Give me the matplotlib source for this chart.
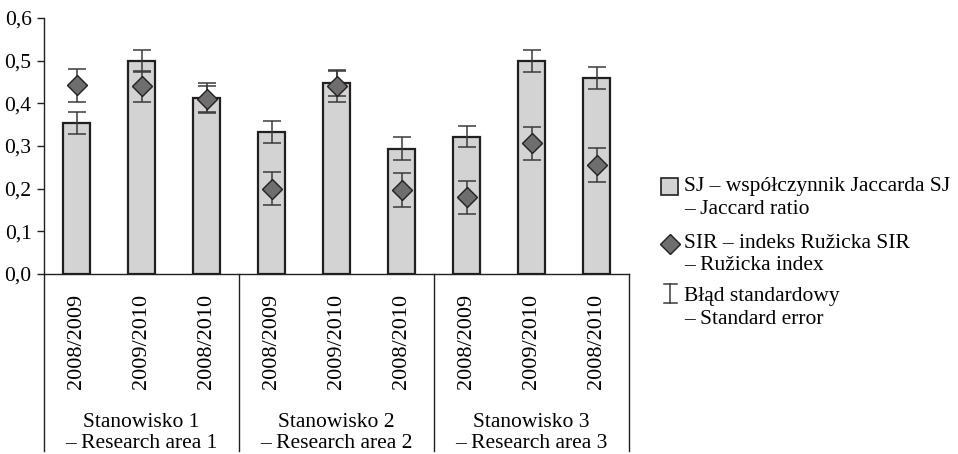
import matplotlib
matplotlib.use("Agg")
import matplotlib.pyplot as plt
from matplotlib.patches import Rectangle
from matplotlib.lines import Line2D
import numpy as np

# ---- data ----
years = ["2008/2009", "2009/2010", "2008/2010",
         "2008/2009", "2009/2010", "2008/2010",
         "2008/2009", "2009/2010", "2008/2010"]
groups = ["Stanowisko 1\n– Research area 1",
          "Stanowisko 2\n– Research area 2",
          "Stanowisko 3\n– Research area 3"]
sj = [0.354, 0.500, 0.413, 0.333, 0.448, 0.294, 0.322, 0.500, 0.459]
sj_se = [0.025, 0.026, 0.035, 0.026, 0.030, 0.026, 0.025, 0.026, 0.025]
sir = [0.442, 0.440, 0.410, 0.200, 0.440, 0.197, 0.180, 0.306, 0.256]
sir_se = [0.039, 0.036, 0.030, 0.039, 0.036, 0.039, 0.039, 0.038, 0.040]
yticks = [0.0, 0.1, 0.2, 0.3, 0.4, 0.5, 0.6]
ytick_labels = ["0,0", "0,1", "0,2", "0,3", "0,4", "0,5", "0,6"]
legend_lines = ["SJ – współczynnik Jaccarda SJ", "– Jaccard ratio",
                "SIR – indeks Ružicka SIR", "– Ružicka index",
                "Błąd standardowy", "– Standard error"]

plt.rcParams['font.family'] = ['Liberation Serif', 'DejaVu Serif']
FS = 15.5
DARK = '#231f20'
BARC = '#d3d3d3'
DIAC = '#6e6e6e'
ERRC = '#3a3a3a'

W, H = 958, 454
fig = plt.figure(figsize=(W / 100, H / 100), dpi=100)
ax = fig.add_axes([44 / W, (H - 274) / H, (629 - 44) / W, (274 - 18) / H])

x = np.arange(len(sj))
ax.bar(x, sj, width=0.42, color=BARC, edgecolor=DARK, linewidth=1.6, zorder=2)
ax.errorbar(x, sj, yerr=sj_se, fmt='none', ecolor=ERRC, elinewidth=1.1,
            capsize=6.5, capthick=1.1, zorder=3)
ax.errorbar(x, sir, yerr=sir_se, fmt='none', ecolor=ERRC, elinewidth=1.1,
            capsize=6.5, capthick=1.1, zorder=4)
ax.plot(x, sir, linestyle='none', marker='D', markersize=10.2,
        markerfacecolor=DIAC, markeredgecolor=DARK, markeredgewidth=1.0, zorder=5)

ax.set_xlim(-0.5, len(sj) - 0.5)
ax.set_ylim(0, 0.6)
ax.set_yticks(yticks)
ax.set_yticklabels(ytick_labels, fontsize=FS)
ax.tick_params(axis='y', direction='out', length=5, width=1.0, color=DARK, pad=4)
ax.set_xticks(x)
ax.set_xticklabels(years, rotation=90, fontsize=16)
ax.tick_params(axis='x', length=0, pad=14.5)
for s in ['top', 'right']:
    ax.spines[s].set_visible(False)
for s in ['left', 'bottom']:
    ax.spines[s].set_color(DARK)
    ax.spines[s].set_linewidth(1.0)

# group separators below the axis
tr = ax.get_xaxis_transform()
for xd in [-0.5, 2.5, 5.5, 8.5]:
    ax.add_line(Line2D([xd, xd], [0, -0.69], transform=tr, color=DARK,
                       linewidth=1.0, clip_on=False))
for i, g in enumerate(groups):
    ax.text(3 * i + 1, -0.622, g, transform=tr, ha='center', va='center',
            fontsize=FS, linespacing=1.15)

# legend drawn in pixel coordinates
lg = fig.add_axes([0, 0, 1, 1])
lg.set_xlim(0, W)
lg.set_ylim(H, 0)
lg.axis('off')
lg.patch.set_alpha(0)
lg.add_patch(Rectangle((661, 178), 17, 17, facecolor=BARC, edgecolor=DARK, linewidth=1.2))
lg.plot([670.5], [244], marker='D', markersize=10, markerfacecolor=DIAC,
        markeredgecolor=DARK, markeredgewidth=1.0, linestyle='none')
lg.plot([670.5, 670.5], [284, 303], color=ERRC, linewidth=1.1)
lg.plot([664, 677], [284, 284], color=ERRC, linewidth=1.1)
lg.plot([664, 677], [303, 303], color=ERRC, linewidth=1.1)
ys = [187, 209, 243, 266, 296, 319]
for t, yy in zip(legend_lines, ys):
    lg.text(684, yy, t, fontsize=FS, ha='left', va='center')

fig.savefig('out.png', dpi=100)
